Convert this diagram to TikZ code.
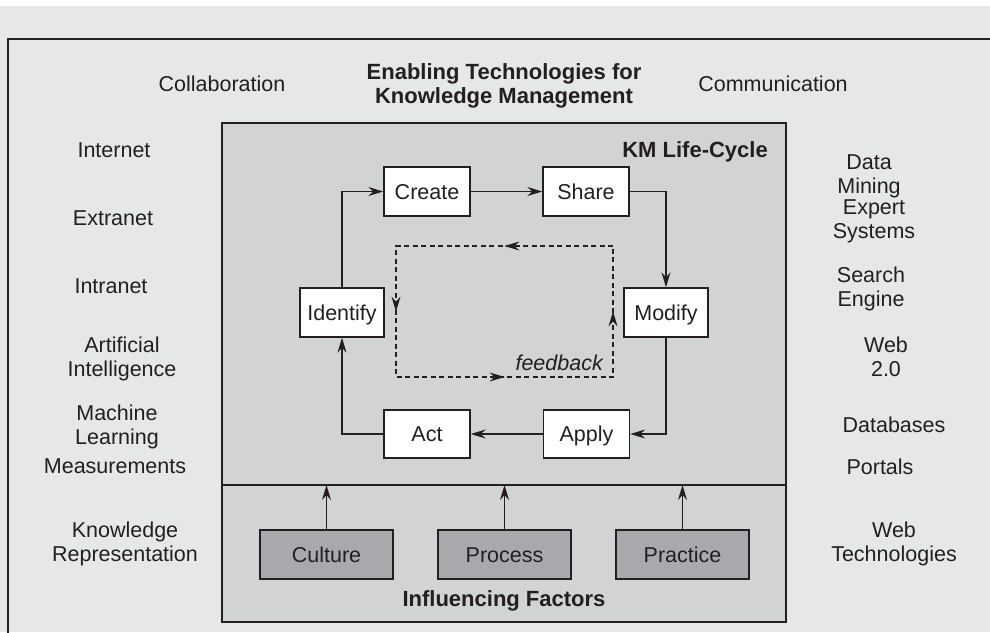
\documentclass[tikz,border=0pt]{standalone}
\usepackage{fontspec}
\setmainfont{Liberation Sans}
\usetikzlibrary{arrows.meta,decorations.markings}
\definecolor{bgc}{HTML}{E6E7E8}
\definecolor{innerc}{HTML}{D1D3D4}
\definecolor{facc}{HTML}{A7A9AC}
\definecolor{ink}{HTML}{231F20}
\begin{document}
\begin{tikzpicture}[x=1pt,y=-1pt,
  txt/.style={font=\fontsize{21.5}{24}\selectfont, text=ink},
  lbl/.style={txt, anchor=north, inner sep=0pt, align=center},
  ttl/.style={lbl, font=\fontsize{22}{24}\selectfont\bfseries},
  stepbox/.style={txt, draw=ink, line width=1.4pt, fill=white, minimum height=49pt,
    text height=15.5pt, text depth=0pt, inner sep=0pt},
  factor/.style={stepbox, fill=facc, minimum width=133pt},
  arr/.style={draw=ink, line width=1.4pt, -{Stealth[length=15pt,width=9pt,inset=5pt]}},
  fbline/.style={draw=ink, line width=1.2pt, dash pattern=on 5pt off 3.5pt,
    postaction={decorate},
    decoration={markings,
      mark=at position 0.156 with {\arrow{Stealth[length=15pt,width=9pt,inset=5pt]}},
      mark=at position 0.406 with {\arrow{Stealth[length=15pt,width=9pt,inset=5pt]}},
      mark=at position 0.656 with {\arrow{Stealth[length=15pt,width=9pt,inset=5pt]}},
      mark=at position 0.906 with {\arrow{Stealth[length=15pt,width=9pt,inset=5pt]}}}}
]
\useasboundingbox (0,0) rectangle (990,632);
\clip (0,0) rectangle (990,632);
\fill[bgc] (0,6) rectangle (990,632);
% outer frame
\draw[ink, line width=1.4pt] (8,39) rectangle (1000,660);
% inner KM box
\draw[ink, line width=1.4pt, fill=innerc] (222,123) rectangle (786,622);
\coordinate (divL) at (222,485);
\coordinate (divR) at (786,485);
\draw[ink, line width=1.4pt] (divL) -- (divR);

% titles
\node[ttl] (title) at (504,63) {Enabling Technologies for\\Knowledge Management};
\node[ttl, anchor=north east] (kmlc) at (768,141) {KM Life-Cycle};
\node[ttl] (inf) at (504,590) {Influencing Factors};

% left column
\node[lbl] (collab) at (222,76) {Collaboration};
\node[lbl] (internet) at (114,143) {Internet};
\node[lbl] (extranet) at (113,211) {Extranet};
\node[lbl] (intranet) at (111,279) {Intranet};
\node[lbl] (ai) at (122,337) {Artificial\\Intelligence};
\node[lbl] (ml) at (117,405) {Machine\\Learning};
\node[lbl] (meas) at (115,459) {Measurements};
\node[lbl] (kr) at (125,522) {Knowledge\\Representation};

% right column
\node[lbl] (comm) at (773,76) {Communication};
\node[lbl] (dm) at (869,155) {Data\\Mining};
\node[lbl] (es) at (874,200) {Expert\\Systems};
\node[lbl] (se) at (871,267) {Search\\Engine};
\node[lbl] (web2) at (886,337) {Web\\2.0};
\node[lbl] (db) at (894,417) {Databases};
\node[lbl] (portals) at (880,459) {Portals};
\node[lbl] (webtech) at (894,522) {Web\\Technologies};

% life-cycle boxes
\node[stepbox, minimum width=86pt] (create) at (427,191.5) {Create};
\node[stepbox, minimum width=86pt] (share) at (586,191.5) {Share};
\node[stepbox, minimum width=84pt] (identify) at (342,312.5) {Identify};
\node[stepbox, minimum width=84pt] (modify) at (666,312.5) {Modify};
\node[stepbox, minimum width=86pt, minimum height=48pt] (act) at (427,434) {Act};
\node[stepbox, minimum width=86pt, minimum height=48pt] (apply) at (586.5,434) {Apply};

\draw[arr] (identify.north) |- (create.west);
\draw[arr] (create.east) -- (share.west);
\draw[arr] (share.east) -| (modify.north);
\draw[arr] (modify.south) |- (apply.east);
\draw[arr] (apply.west) -- (act.east);
\draw[arr] (act.west) -| (identify.south);

% feedback loop
\coordinate (fbNE) at (613,246);
\coordinate (fbNW) at (396,246);
\coordinate (fbSW) at (396,377);
\coordinate (fbSE) at (613,377);
\draw[fbline] (fbNE) -- (fbNW) -- (fbSW) -- (fbSE) -- cycle;
\node[lbl, anchor=north east, font=\fontsize{21.5}{24}\selectfont\itshape] (fb) at (603,355) {feedback};

% influencing factors
\node[factor] (culture) at (326.5,554.5) {Culture};
\node[factor] (process) at (504.5,554.5) {Process};
\node[factor] (practice) at (682.5,554.5) {Practice};
\draw[arr] (culture.north) -- (culture.north |- divL);
\draw[arr] (process.north) -- (process.north |- divL);
\draw[arr] (practice.north) -- (practice.north |- divL);
\end{tikzpicture}
\end{document}
